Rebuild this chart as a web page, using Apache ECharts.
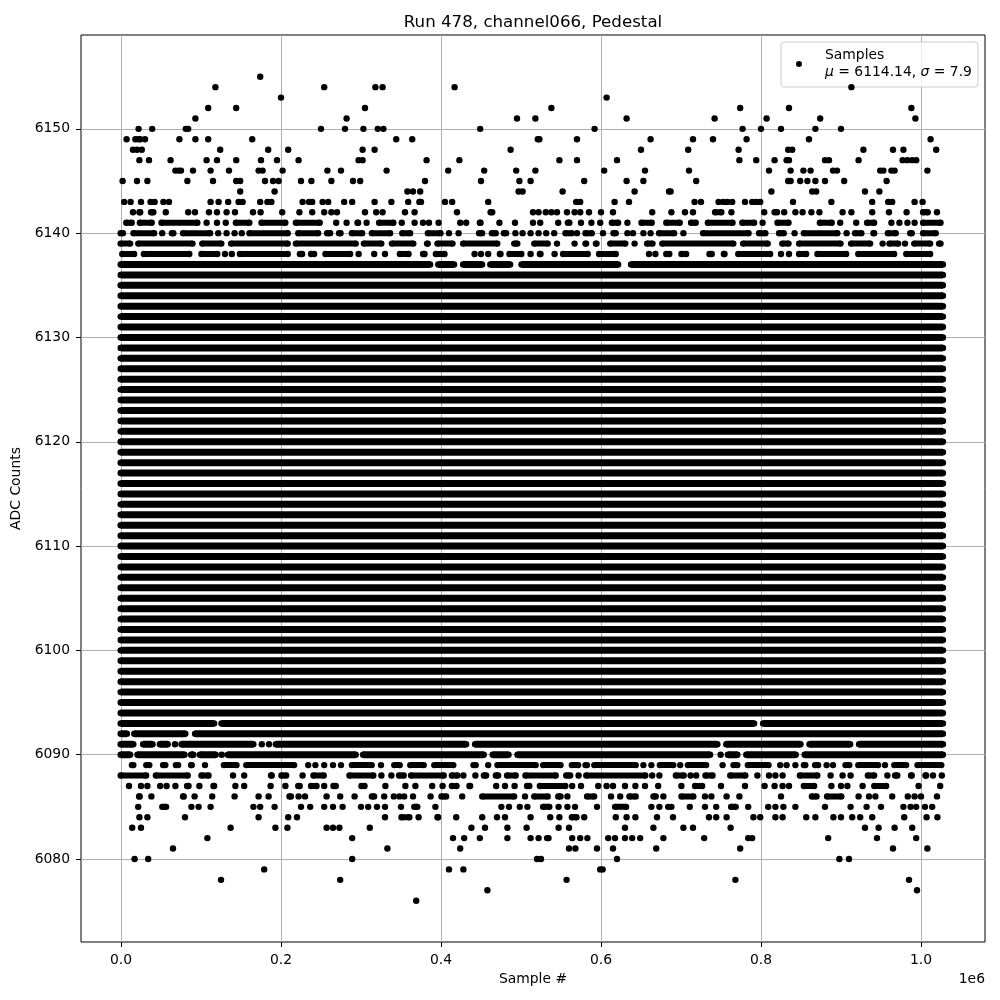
<!DOCTYPE html>
<html><head><meta charset="utf-8"><style>html,body{margin:0;padding:0;background:#fff}#c{width:1000px;height:1000px}</style>
<script src="https://cdn.jsdelivr.net/npm/echarts@6/dist/echarts.min.js"></script></head>
<body><div id="c"></div><script>
// Sample positions are in thousands of samples. A number is a single sample; [a,b] is a run of overlapping samples.
const xTicks=[0,200,400,600,800,1000];
const yTicks=[6080,6090,6100,6110,6120,6130,6140,6150];
const solidLevels=[6094,6095,6096,6097,6098,6099,6100,6101,6102,6103,6104,6105,6106,6107,6108,6109,6110,6111,6112,6113,6114,6115,6116,6117,6118,6119,6120,6121,6122,6123,6124,6125,6126,6127,6128,6129,6130,6131,6132,6133,6134,6135,6136];
const solidRun=[-4,1031];
const row6155=[174];
const row6154=[118,254,318,327,417,913];
const row6153=[200,607];
const row6152=[109,144,305,538,774,835,988];
const row6151=[93,282,495,518,632,742,807,874,993];
const row6150=[22,39,81,84,250,280,303,321,328,449,592,777,800,825,868,900];
const row6149=[7,18,22,24,30,73,93,109,164,344,364,521,523,570,662,715,740,782,860,1012];
const row6148=[15,20,26,124,184,209,302,317,487,650,709,772,834,839,928,965,978,1019];
const row6147=[23,35,62,107,120,144,175,195,222,297,302,382,423,548,570,620,773,794,817,832,835,880,885,922,977,983,989,994];
const row6146=[68,72,75,90,112,135,172,177,202,258,275,332,409,454,494,518,604,655,710,810,837,853,862,890,895,949,953,963,967,1008];
const row6145=[2,20,33,83,115,144,149,180,190,197,225,238,263,290,299,380,450,498,512,579,632,653,719,834,837,849,858,868,880,904,957];
const row6144=[149,192,358,365,374,497,502,552,642,685,687,813,864,869,930,948];
const row6143=[4,12,25,37,42,53,60,112,122,134,147,152,174,183,188,227,235,239,252,259,279,289,317,338,359,373,375,405,414,459,569,574,617,635,717,725,747,753,758,764,780,789,794,799,840,888,939,959,964,992,1002];
const row6142=[15,23,24,[34,44],[53,59],84,[90,95],110,[118,122],132,[140,145],[163,167],[172,177],[199,204],223,239,254,263,270,305,319,327,355,367,420,462,464,515,522,531,538,545,[555,560],567,574,585,600,615,664,688,705,[712,718],[739,754],763,804,817,820,829,843,852,863,873,902,913,939,960,982,[999,1012],1020];
const row6141=[[3,17],[20,42],[47,99],[104,110],[118,122],[128,134],[140,164],[172,209],[215,252],269,[279,285],[292,300],307,[319,344],[348,354],367,[375,380],385,397,424,[429,434],[445,453],473,[490,495],515,524,[543,550],[555,564],575,588,599,[610,625],633,[647,667],[678,702],[709,722],[730,768],[773,795],802,[817,838],[870,892],899,919,[929,945],963,973,983,992,[999,1028]];
const row6140=[[-4,6],[12,45],[49,54],[60,69],[74,115],[118,125],132,[139,145],[149,153],[157,212],[218,250],[254,265],[269,278],[285,305],[310,340],[348,365],[380,403],410,[419,425],[444,455],[460,472],[475,485],493,502,512,522,[529,534],[538,545],[552,567],570,[577,592],[600,605],[612,622],633,640,653,662,[669,695],703,[724,788],[794,809],[819,832],[839,845],[850,899],907,[914,929],[937,945],[955,972],[983,992],[999,1022]];
const row6139=[[-4,15],[18,93],[98,129],[134,212],[215,297],[300,329],[335,369],[379,387],[392,418],[424,474],[488,499],[513,537],[542,548],567,[577,585],[590,598],[608,634],642,[654,668],[673,769],[774,812],[823,838],[844,903],[909,940],952,[957,975],980,[988,1015],[1019,1028]];
const row6138=[[-2,20],[25,89],[97,124],[128,132],[137,140],[145,212],[220,230],[234,245],[252,290],297,[313,320],330,[345,363],[374,383],[390,408],442,450,459,[470,478],[482,504],512,[520,528],[539,545],[549,587],[594,622],660,668,[678,689],[697,710],[732,742],[750,758],[768,815],825,835,[844,860],[867,910],[918,970],[978,1015]];
const row6137=[[-4,390],[393,420],[424,455],[458,490],[497,625],[634,1031]];
const row6093=[[-4,120],[122,795],[799,1031]];
const row6092=[[-4,11],[13,84],[89,1031]];
const row6091=[[-4,19],[24,43],[45,62],[65,70],[72,169],[173,179],[182,188],[190,435],[439,749],[753,853],[857,915],[919,1031]];
const row6090=[[-4,15],[17,83],[84,94],[95,122],[124,128],[130,297],[299,457],[461,488],[492,740],[746,753],[755,774],[778,847],[851,1031]];
const row6089=[[10,19],[28,39],[49,59],[65,75],[84,92],105,[125,148],[153,220],234,243,254,265,275,[285,317],325,[338,352],[358,382],[388,419],[437,447],459,[467,522],[524,553],[560,575],[577,586],[588,647],653,663,[670,694],699,[705,735],752,[762,774],[780,813],824,832,843,[850,859],[864,875],882,890,[902,914],[918,950],955,[963,985],[992,1029]];
const row6088=[[-4,35],[40,87],[97,113],140,154,[184,192],[197,210],227,[237,257],[282,319],[322,329],338,[344,357],[359,407],[410,424],428,443,[450,460],[465,475],[479,497],[502,547],[553,565],572,[578,659],664,673,[690,707],712,719,[727,743],[758,784],[792,799],810,818,827,[845,874],[884,890],902,912,[930,945],958,[964,974],[984,992],[1002,1010],1015,[1023,1029]];
const row6087=[10,25,33,49,57,68,[79,88],98,[112,120],143,154,187,[202,209],[218,227],[234,248],254,[262,272],[297,308],[327,334],[352,359],368,389,402,[410,423],[432,440],469,480,[489,495],[504,514],[520,559],564,575,[594,599],607,615,[627,633],643,655,[668,675],[697,704],[714,730],750,780,[802,807],[814,820],827,835,[850,870],888,900,908,927,[938,960],997,1024];
const row6086=[[19,27],38,[74,82],[89,95],114,142,172,[182,187],[207,216],222,230,257,274,292,[310,320],329,[338,344],348,354,[363,367],[384,390],[397,410],[423,430],[448,495],505,[513,537],[543,553],558,[579,595],[610,615],624,[632,647],[662,672],678,[697,719],730,738,757,773,[823,827],[860,873],[879,904],922,935,943,964,[982,985],992,1000,[1018,1022]];
const row6085=[[18,25],[48,60],88,97,112,[163,168],174,192,225,[234,239],254,265,277,300,309,320,330,350,[363,374],393,[472,479],485,[495,502],508,[524,539],547,558,[565,570],[592,598],[614,635],663,673,684,688,[708,714],730,744,[759,772],784,809,818,828,843,880,[909,915],932,950,978,987,994,1005,1014];
const row6084=[23,33,80,172,209,220,330,[347,364],372,[392,400],419,[450,453],470,480,512,[534,539],548,[560,573],579,[615,622],[629,635],643,670,[688,692],735,744,757,[789,792],799,818,827,[854,859],868,[889,892],900,914,924,939,979,1007,[1018,1023]];
const row6083=[14,25,137,193,208,257,265,273,[308,314],438,455,483,507,[544,550],[557,563],[628,632],[663,668],703,715,762,930,947,967,989];
const row6082=[108,289,415,429,[445,452],483,512,522,[529,538],564,574,583,609,[615,620],630,639,649,678,729,784,789,884,945,994];
const row6081=[65,333,424,560,568,595,615,669,774,965,1008];
const row6080=[17,34,289,520,525,620,898,910];
const row6079=[179,410,428,599,602];
const row6078=[125,274,557,768,985];
const row6077=[458,995];
const row6076=[369];
const sparseRows=[[6155,row6155],[6154,row6154],[6153,row6153],[6152,row6152],[6151,row6151],[6150,row6150],[6149,row6149],[6148,row6148],[6147,row6147],[6146,row6146],[6145,row6145],[6144,row6144],[6143,row6143],[6142,row6142],[6141,row6141],[6140,row6140],[6139,row6139],[6138,row6138],[6137,row6137],[6093,row6093],[6092,row6092],[6091,row6091],[6090,row6090],[6089,row6089],[6088,row6088],[6087,row6087],[6086,row6086],[6085,row6085],[6084,row6084],[6083,row6083],[6082,row6082],[6081,row6081],[6080,row6080],[6079,row6079],[6078,row6078],[6077,row6077],[6076,row6076]];
const titleText='Run 478, channel066, Pedestal';
const xName='Sample #', yName='ADC Counts', xOffsetText='1e6';

const DOT=3.6; // dot radius in thousands of samples
const points=[], runs=[], solidRuns=[];
function addRun(level,a,b,target){
  if(b-a<=2*DOT){points.push([(a+b)/2,level]);return;}
  const s=a+DOT,e=b-DOT;
  points.push([s,level],[e,level]);
  target.push([s,level],[e,level],['-','-']);
}
solidLevels.forEach(l=>addRun(l,solidRun[0],solidRun[1],solidRuns));
sparseRows.forEach(([l,row])=>row.forEach(it=>Array.isArray(it)?addRun(l,it[0],it[1],(l>=6090&&l<=6137)?solidRuns:runs):points.push([it,l])));

const font='"DejaVu Sans"';
const chart=echarts.init(document.getElementById('c'),null,{renderer:'canvas'});
chart.setOption({
  animation:false,backgroundColor:'#fff',
  title:[
    {text:titleText,left:528,top:9,textAlign:'center',textStyle:{fontFamily:font,fontSize:16.67,fontWeight:'normal',color:'#000'}},
    {text:xOffsetText,right:10,top:967,textStyle:{fontFamily:font,fontSize:13.9,fontWeight:'normal',color:'#000'}}
  ],
  grid:{left:81,right:15,top:35,bottom:58,show:true,borderColor:'#000',borderWidth:1,backgroundColor:'#fff'},
  legend:{left:781,top:42,data:[{name:'Samples',icon:'circle'}],orient:'vertical',padding:[5,6,6,15],itemWidth:6,itemHeight:6,itemGap:0,
    backgroundColor:'rgba(255,255,255,0.8)',borderColor:'#ccc',borderWidth:1,borderRadius:3,
    formatter:()=>'{s|}Samples\n{s|}{i|\u03bc} = 6114.14, {i|\u03c3} = 7.9',
    textStyle:{fontFamily:font,fontSize:13.9,color:'#000',lineHeight:17,rich:{s:{width:18,lineHeight:17},i:{fontFamily:font,fontStyle:'italic',fontSize:13.9,color:'#000',lineHeight:17}}}},
  xAxis:{type:'value',min:-50,max:1080,name:xName,nameLocation:'middle',nameGap:29,
    nameTextStyle:{fontFamily:font,fontSize:13.9,color:'#000'},
    axisLine:{show:false,onZero:false},
    axisTick:{show:true,length:5,customValues:xTicks,lineStyle:{color:'#000',width:1}},
    axisLabel:{color:'#000',fontFamily:font,fontSize:13.9,margin:11,customValues:xTicks,formatter:v=>(v/1000).toFixed(1)},
    splitLine:{show:true,lineStyle:{color:'#b0b0b0',width:1}}},
  yAxis:{type:'value',min:6072.04,max:6159,name:yName,nameLocation:'middle',nameGap:46,
    nameTextStyle:{fontFamily:font,fontSize:13.9,color:'#000'},
    axisLine:{show:false,onZero:false},
    axisTick:{show:true,length:5,customValues:yTicks,lineStyle:{color:'#000',width:1}},
    axisLabel:{color:'#000',fontFamily:font,fontSize:13.9,margin:11,customValues:yTicks,formatter:v=>String(v)},
    splitLine:{show:true,lineStyle:{color:'#b0b0b0',width:1}}},
  series:[
    {name:'Dense rows',type:'line',data:solidRuns,showSymbol:false,connectNulls:false,silent:true,
      lineStyle:{color:'#000',width:7,cap:'butt'},itemStyle:{color:'#000'},clip:true,z:3},
    {name:'Runs',type:'line',data:runs,showSymbol:false,connectNulls:false,silent:true,
      lineStyle:{color:'#000',width:6,cap:'butt'},itemStyle:{color:'#000'},clip:true,z:3},
    {name:'Samples',type:'scatter',data:points,symbol:'circle',symbolSize:6.4,silent:true,itemStyle:{color:'#000',opacity:1},clip:true,z:4}
  ]
});
</script></body></html>
